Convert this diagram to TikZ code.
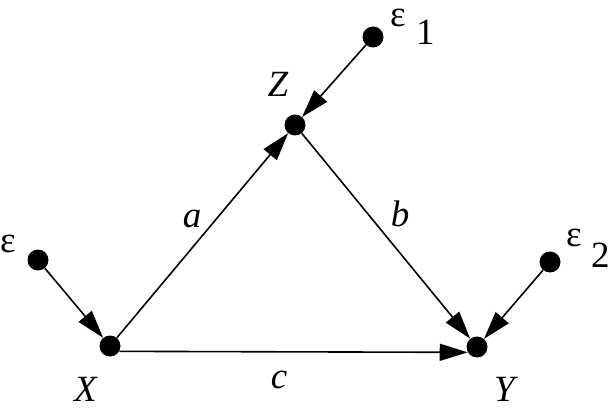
\documentclass[tikz,border=0pt]{standalone}
\usepackage{fontspec}
\setmainfont{Liberation Serif}
\usetikzlibrary{arrows.meta}
\tikzset{
    dot/.style={fill,circle,inner sep=0pt,minimum size=21pt},
    arr/.style={line width=1.6pt,-{Triangle[length=28pt,width=17pt]}},
    lab/.style={inner sep=0pt,anchor=base,font=\fontsize{37}{37}\selectfont}
}

\begin{document}
\begin{tikzpicture}[x=1pt,y=-1pt]
          \useasboundingbox (0,0) rectangle (611,409);

          % X
          \node (X) at (110,346) [dot] {};
          \node (Xl) at (86,401) [lab] {\textit{X}};

          % Z
          \node (Z) at (295,125) [dot] {};
          \node (Zl) at (278,97) [lab] {\textit{Z}};

          % Y
          \node (Y) at (477,347) [dot] {};
          \node (Yl) at (506,401) [lab] {\textit{Y}};

          % noise terms
          \node (e) at (38,260) [dot] {};
          \node (el) at (0,252) [lab,anchor=base west] {ε};

          \node (e1) at (373,37) [dot] {};
          \node (e1l) at (390,27) [lab,anchor=base west] {ε};
          \node (e1s) at (416,45) [lab,anchor=base west] {1};

          \node (e2) at (550,262) [dot] {};
          \node (e2l) at (566,247) [lab,anchor=base west] {ε};
          \node (e2s) at (591,267) [lab,anchor=base west] {2};

          % edges
          \draw[arr] (e) -- (X);
          \draw[arr] (e1) -- (Z);
          \draw[arr] (e2) -- (Y);
          \draw[arr] (X) -- (Z);
          \draw[arr] (Z) -- (Y);
          \draw[arr] (X.-30) -- (Y.210);

          % coefficients
          \node (a) at (192,227) [lab] {\textit{a}};
          \node (b) at (400,226) [lab] {\textit{b}};
          \node (c) at (279,388) [lab] {\textit{c}};
\end{tikzpicture}
\end{document}
